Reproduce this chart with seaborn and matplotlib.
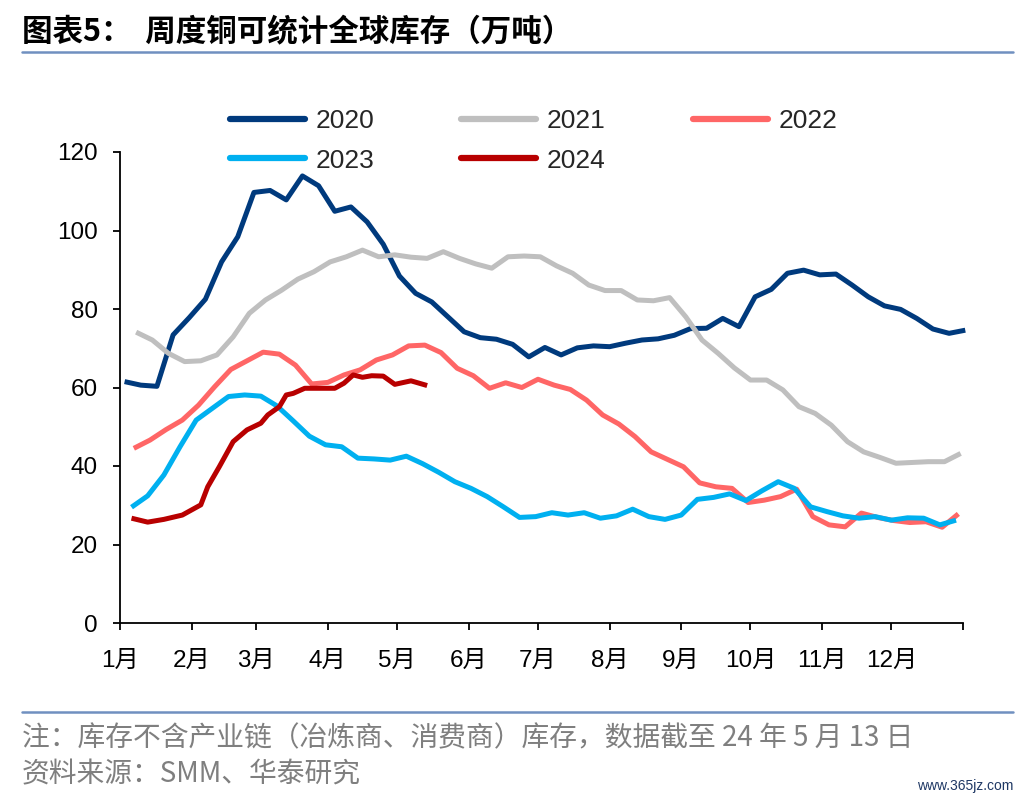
import numpy as np
import pandas as pd
import seaborn as sns
import matplotlib.pyplot as plt
from matplotlib.lines import Line2D

# weekly readings, 万吨
years = ['2020', '2021', '2022', '2023', '2024']
first_friday = {'2020': '2020-01-03', '2021': '2021-01-08', '2022': '2022-01-07', '2023': '2023-01-06'}

v2020 = [61.5, 60.6, 60.3, 73.4, 77.8, 82.5, 92.0, 98.4, 109.7, 110.2, 107.8, 113.9, 111.4,
         104.9, 106.0, 102.2, 96.5, 88.4, 84.0, 81.8, 78.0, 74.2, 72.7, 72.3, 71.0, 67.8,
         70.2, 68.3, 70.1, 70.6, 70.4, 71.3, 72.1, 72.4, 73.3, 75.0, 75.1, 77.6, 75.5, 83.1,
         85.0, 89.1, 89.9, 88.7, 88.9, 86.1, 83.1, 80.8, 79.9, 77.6, 74.9, 73.8, 74.6]
v2021 = [74.1, 72.1, 68.7, 66.6, 66.8, 68.3, 72.9, 78.9, 82.3, 84.8, 87.6, 89.5, 92.0,
         93.3, 95.0, 93.3, 93.8, 93.2, 92.9, 94.6, 92.9, 91.5, 90.4, 93.3, 93.5, 93.3,
         91.0, 89.1, 86.1, 84.7, 84.7, 82.3, 82.1, 82.9, 78.0, 72.1, 68.7, 65.0, 61.9,
         61.9, 59.4, 55.1, 53.4, 50.4, 46.2, 43.6, 42.2, 40.7, 40.9, 41.1, 41.1, 43.2]
v2022 = [44.5, 46.6, 49.3, 51.7, 55.5, 60.2, 64.6, 66.8, 69.0, 68.5, 65.7, 60.9, 61.3,
         63.2, 64.5, 67.0, 68.3, 70.6, 70.8, 68.9, 64.9, 63.0, 59.8, 61.2, 60.0, 62.1,
         60.6, 59.5, 56.8, 53.0, 50.7, 47.5, 43.6, 41.7, 39.8, 35.7, 34.7, 34.3, 30.7,
         31.3, 32.2, 34.1, 27.1, 25.0, 24.5, 28.0, 26.9, 26.1, 25.6, 25.8, 24.4, 27.8]
v2023 = [29.5, 32.4, 37.7, 44.9, 51.7, 54.7, 57.7, 58.1, 57.8, 55.3, 51.5, 47.6, 45.4,
         44.9, 42.0, 41.8, 41.5, 42.5, 40.6, 38.4, 36.0, 34.3, 32.2, 29.6, 26.9, 27.1,
         28.1, 27.5, 28.1, 26.7, 27.3, 29.0, 27.1, 26.4, 27.5, 31.5, 32.0, 32.9, 31.2,
         33.7, 36.0, 34.3, 29.6, 28.4, 27.3, 26.7, 27.1, 26.2, 26.8, 26.7, 25.0, 26.2]
d2024 = ['2024-01-06', '2024-01-13', '2024-01-20', '2024-01-28', '2024-02-05', '2024-02-08',
         '2024-02-13', '2024-02-19', '2024-02-25', '2024-03-02', '2024-03-05', '2024-03-10',
         '2024-03-13', '2024-03-16', '2024-03-21', '2024-03-27', '2024-04-03', '2024-04-07',
         '2024-04-11', '2024-04-15', '2024-04-19', '2024-04-24', '2024-04-29', '2024-05-06',
         '2024-05-13']
v2024 = [26.7, 25.7, 26.4, 27.5, 30.1, 34.7, 39.8, 46.2, 49.2, 50.9, 53.0, 55.1, 58.1,
         58.5, 59.8, 59.8, 59.8, 61.1, 63.2, 62.6, 63.0, 62.9, 60.8, 61.7, 60.5]

months = ['1月', '2月', '3月', '4月', '5月', '6月', '7月', '8月', '9月', '10月', '11月', '12月']
colors = {'2020': '#003A7D', '2021': '#BFBFBF', '2022': '#FF6666', '2023': '#00B0F0', '2024': '#B80000'}

values = {'2020': v2020, '2021': v2021, '2022': v2022, '2023': v2023, '2024': v2024}
frames = []
for y in years:
    if y == '2024':
        dates = pd.to_datetime(d2024)
    else:
        dates = pd.date_range(first_friday[y], periods=len(values[y]), freq='7D')
    day = (dates - pd.Timestamp(y + '-01-01')).days
    frames.append(pd.DataFrame({'day': day, 'stock': values[y], 'year': y}))
df = pd.concat(frames, ignore_index=True)

sns.set_theme(style='ticks')
plt.rcParams['font.family'] = ['Liberation Sans', 'Noto Sans CJK SC', 'DejaVu Sans']

fig = plt.figure(figsize=(10.36, 8), dpi=100)
ax = fig.add_axes([0.1158, 0.22125, 0.8137, 0.58875])

sns.lineplot(data=df, x='day', y='stock', hue='year', palette=colors, hue_order=years,
             estimator=None, sort=False, linewidth=3.6, ax=ax, legend=False)
for ln in ax.lines:
    ln.set_clip_on(False)
    ln.set_solid_capstyle('butt')

month_start = pd.date_range('2023-01-01', periods=13, freq='MS')
ticks = (month_start - pd.Timestamp('2023-01-01')).days
ax.set_xlim(0, 365)
ax.set_ylim(0, 120)
ax.set_xticks(ticks)
ax.set_xticklabels(months + [''])
ax.set_yticks(np.arange(0, 121, 20))
ax.tick_params(axis='both', labelsize=17.5, length=5, width=1.3, colors='black', direction='out')
ax.tick_params(axis='x', pad=14)
ax.tick_params(axis='y', pad=11)
ax.set_xlabel('')
ax.set_ylabel('')
sns.despine(ax=ax)
for s in ['left', 'bottom']:
    ax.spines[s].set_color('black')
    ax.spines[s].set_linewidth(1.3)

# legend in row-major order (matplotlib fills column-first)
handles = {y: Line2D([], [], color=colors[y], lw=4.5) for y in years}
order = ['2020', '2023', '2021', '2024', '2022']
fig.legend([handles[y] for y in order], order, loc='center', bbox_to_anchor=(0.515, 0.824),
           ncol=3, frameon=False, fontsize=19, handlelength=2.85, handletextpad=0.4,
           columnspacing=3.3, labelspacing=0.6)

cjk = ['Noto Sans CJK SC', 'DejaVu Sans']
fig.text(0.021, 0.959, '图表5：  周度铜可统计全球库存（万吨）', fontsize=22, fontweight='bold',
         family=cjk, va='center', ha='left', color='black')
fig.add_artist(Line2D([0.021, 0.978], [0.935, 0.935], color='#7090C0', lw=1.8))
fig.add_artist(Line2D([0.021, 0.978], [0.11, 0.11], color='#7090C0', lw=1.8))
fig.text(0.021, 0.0775, '注：库存不含产业链（冶炼商、消费商）库存，数据截至 24 年 5 月 13 日', fontsize=20,
         family=cjk, va='center', ha='left', color='#7F7F7F')
fig.text(0.021, 0.032, '资料来源：SMM、华泰研究', fontsize=20,
         family=cjk, va='center', ha='left', color='#7F7F7F')
fig.text(0.978, 0.018, 'www.365jz.com', fontsize=10, va='center', ha='right', color='#1F3864')

fig.savefig('out.png', dpi=100)
